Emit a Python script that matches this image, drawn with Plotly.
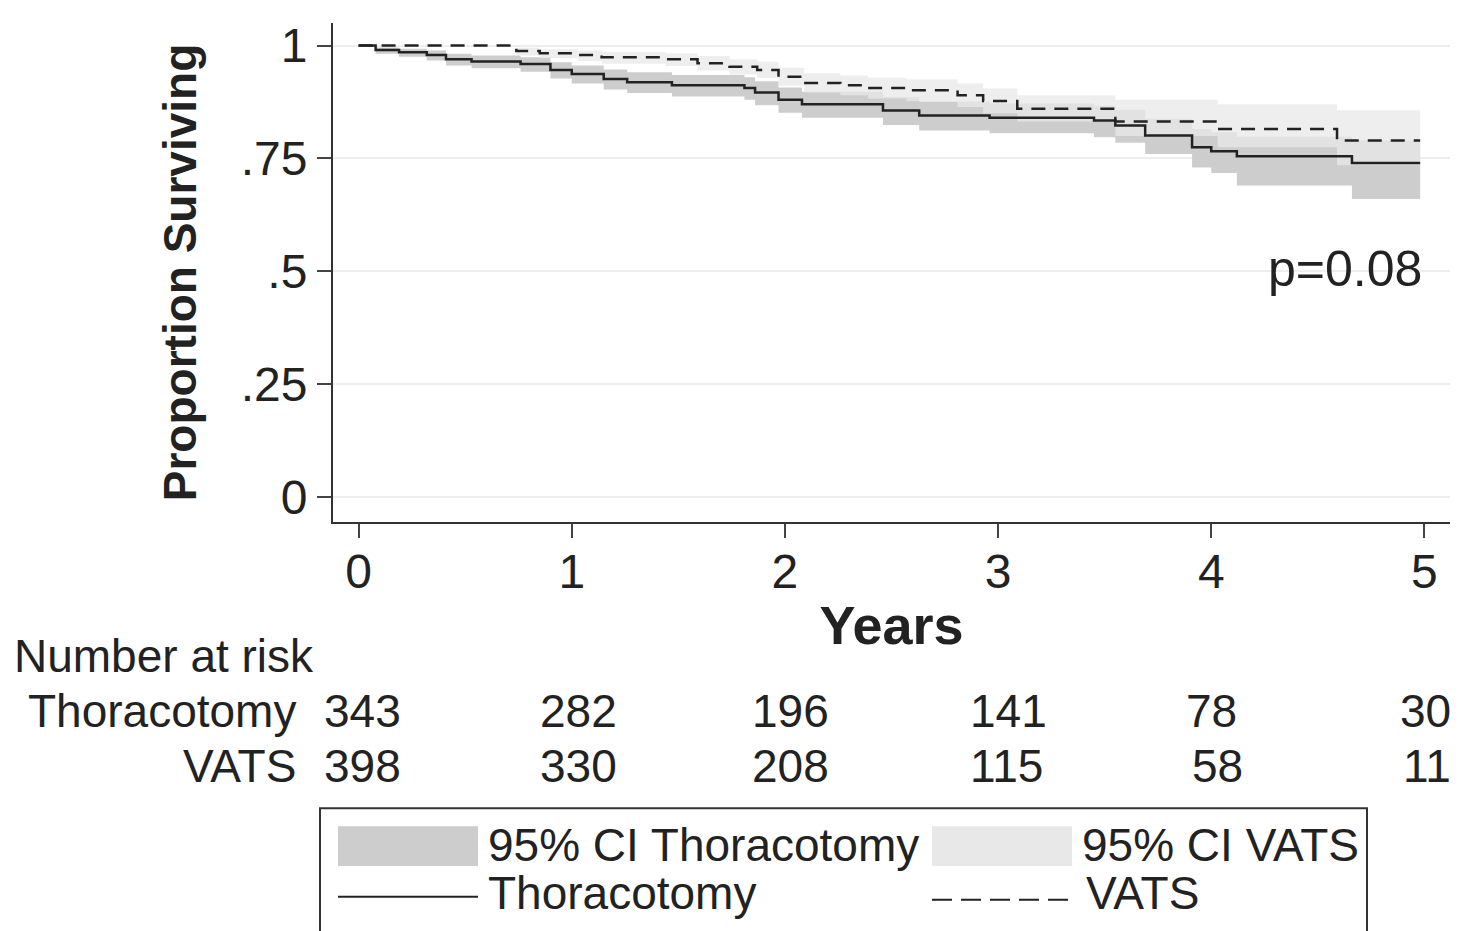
import plotly.graph_objects as go

thor_t = [0,.08,.19,.32,.41,.53,.76,.90,1.0,1.15,1.26,1.47,1.81,1.86,1.97,2.08,2.46,2.63,2.96,3.45,3.55,3.69,3.91,4.0,4.12,4.66,4.98]
thor_s = [1,.990,.985,.979,.970,.965,.959,.946,.937,.926,.919,.912,.906,.896,.880,.870,.856,.845,.840,.834,.823,.801,.775,.766,.755,.740,.740]
thor_lo = [1,.982,.975,.967,.956,.950,.942,.927,.916,.903,.895,.887,.880,.868,.851,.840,.824,.812,.806,.797,.785,.760,.730,.718,.690,.660,.660]
thor_hi = [1,.996,.993,.989,.982,.978,.974,.963,.956,.947,.941,.935,.930,.921,.907,.898,.886,.876,.872,.867,.858,.838,.815,.808,.798,.790,.790]

vats_t = [0,.74,.85,1.03,1.14,1.44,1.59,1.74,1.87,1.97,2.09,2.26,2.39,2.57,2.81,2.93,3.09,3.55,4.03,4.59,4.98]
vats_s = [1,.988,.983,.979,.974,.970,.961,.953,.946,.931,.917,.912,.906,.901,.890,.877,.860,.832,.815,.790,.790]
vats_lo = [1,.978,.972,.966,.960,.955,.945,.936,.928,.911,.896,.890,.883,.877,.864,.850,.832,.800,.775,.735,.700]
vats_hi = [1,.995,.992,.989,.986,.983,.977,.970,.964,.951,.939,.934,.929,.925,.916,.905,.890,.880,.870,.857,.857]

risk_years = [0,1,2,3,4,5]
risk_thor = [343,282,196,141,78,30]
risk_vats = [398,330,208,115,58,11]
y_ticks = [0,.25,.5,.75,1]
y_labels = ["0",".25",".5",".75","1"]

F = "Liberation Sans"
OFF = 8
fig = go.Figure()
def band(t, lo, hi, color):
    fig.add_trace(go.Scatter(x=t, y=lo, mode="lines", line=dict(width=0, shape="hv"), showlegend=False, hoverinfo="skip"))
    fig.add_trace(go.Scatter(x=t, y=hi, mode="lines", line=dict(width=0, shape="hv"), fill="tonexty",
                             fillcolor=color, showlegend=False, hoverinfo="skip"))
band(thor_t, thor_lo, thor_hi, "#cdcdcd")
band(vats_t, vats_lo, vats_hi, "rgba(232,232,232,0.75)")
fig.add_trace(go.Scatter(x=thor_t, y=thor_s, mode="lines", line=dict(color="#222", width=2.5, shape="hv"), showlegend=False))
fig.add_trace(go.Scatter(x=vats_t, y=vats_s, mode="lines", line=dict(color="#222", width=2.5, shape="hv", dash="14px,9px"), showlegend=False))

fig.update_xaxes(range=[-0.12, 5.12], tickvals=risk_years, ticks="outside", ticklen=14, tickwidth=2,
                 showline=True, linecolor="#333", linewidth=2, showgrid=False, zeroline=False,
                 tickfont=dict(family=F, size=48, color="#222"), ticklabelstandoff=-8,
                 title=dict(text="<b>Years</b>", font=dict(family=F, size=54, color="#222"), standoff=10))
fig.update_yaxes(range=[-0.055, 1.05], tickvals=y_ticks, ticktext=y_labels, ticks="outside", ticklen=14, tickwidth=2,
                 showline=True, linecolor="#333", linewidth=2, gridcolor="#eeeeee", gridwidth=2, zeroline=False,
                 tickfont=dict(family=F, size=48, color="#222"),
                 title=dict(text="<b>Proportion Surviving</b>", font=dict(family=F, size=46, color="#222"), standoff=30))

L, R, T, B = 333 - OFF, 1450 - OFF, 20 - OFF, 522 - OFF
def px(xp): return (xp - OFF - L) / (R - L)
def py(yp): return (B - (yp - OFF)) / (B - T)
YS = -30
FS = 46

ann = [dict(x=5.0, y=0.505, xref="x", yref="y", text="p=0.08", showarrow=False, xanchor="right",
            font=dict(family=F, size=50, color="#222")),
       dict(x=px(12), y=py(655), xref="paper", yref="paper", text="Number at risk", showarrow=False, xanchor="left",
            yshift=YS, font=dict(family=F, size=FS, color="#222")),
       dict(x=px(298), y=py(710), xref="paper", yref="paper", text="Thoracotomy", showarrow=False, xanchor="right",
            yshift=YS, font=dict(family=F, size=FS, color="#222")),
       dict(x=px(298), y=py(765), xref="paper", yref="paper", text="VATS", showarrow=False, xanchor="right",
            yshift=YS, font=dict(family=F, size=FS, color="#222"))]
risk_x = [322, 538, 750, 968, 1184, 1453]
for xx, a, b, i in zip(risk_x, risk_thor, risk_vats, range(6)):
    xa = "left" if i < 5 else "right"
    for v, yy in ((a, 710), (b, 765)):
        xs = xx
        if i == 4 and v == 58:
            xs = xx + 6
        ann.append(dict(x=px(xs), y=py(yy), xref="paper", yref="paper", text=str(v), showarrow=False, xanchor=xa,
                        yshift=YS, font=dict(family=F, size=FS, color="#222")))
for txt, xx, yy in (("95% CI Thoracotomy", 486, 845), ("95% CI VATS", 1080, 845), ("Thoracotomy", 486, 893), ("VATS", 1084, 893)):
    ann.append(dict(x=px(xx), y=py(yy), xref="paper", yref="paper", text=txt, showarrow=False, xanchor="left",
                    yshift=YS, font=dict(family=F, size=FS, color="#222")))

shapes = [dict(type="rect", xref="paper", yref="paper", x0=px(320), x1=px(1367), y0=py(935), y1=py(810),
               line=dict(color="#333", width=2)),
          dict(type="rect", xref="paper", yref="paper", x0=px(338), x1=px(478), y0=py(868), y1=py(828),
               fillcolor="#cdcdcd", line=dict(width=0)),
          dict(type="rect", xref="paper", yref="paper", x0=px(932), x1=px(1072), y0=py(868), y1=py(828),
               fillcolor="#e8e8e8", line=dict(width=0)),
          dict(type="line", xref="paper", yref="paper", x0=px(338), x1=px(478), y0=py(899), y1=py(899),
               line=dict(color="#222", width=2)),
          dict(type="line", xref="paper", yref="paper", x0=px(932), x1=px(1072), y0=py(902), y1=py(902),
               line=dict(color="#222", width=2, dash="20px,9px"))]

fig.update_layout(width=1459, height=931, margin=dict(l=L, r=1459 - R, t=T, b=931 - B), plot_bgcolor="white",
                  paper_bgcolor="white", annotations=ann, shapes=shapes)
fig.write_html("out.html")
